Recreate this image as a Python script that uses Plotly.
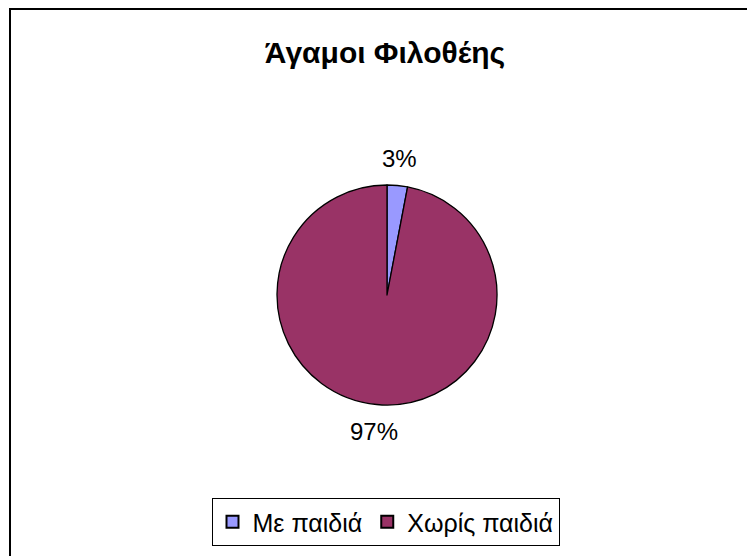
import math
import plotly.graph_objects as go

labels = ["Με παιδιά", "Χωρίς παιδιά"]
values = [3, 97]
colors = ["#9999FF", "#993366"]
title_text = "Άγαμοι Φιλοθέης"

FONT = "Liberation Sans, Arial, sans-serif"
# page has an 8px body margin; figure fills the rest of the 755x556 window
W, H = 747, 548
cx, cy, r = 379, 287, 110      # pie centre / radius in figure pixels
r_label = 137                  # distance of percentage labels from centre

fig = go.Figure(go.Pie(
    labels=labels,
    values=values,
    sort=False,
    direction="clockwise",
    rotation=0,
    marker=dict(colors=colors, line=dict(color="black", width=1.3)),
    textinfo="none",
    domain=dict(x=[(cx - r) / W, (cx + r) / W], y=[(H - cy - r) / H, (H - cy + r) / H]),
    hoverinfo="skip",
))

# percentage labels placed outside each slice along its mid-angle
total = sum(values)
annotations = []
start = 0.0
for v in values:
    frac = v / total
    mid = (start + frac / 2) * 2 * math.pi
    start += frac
    px = cx + r_label * math.sin(mid)
    py = cy - r_label * math.cos(mid)
    annotations.append(dict(
        x=px / W, y=1 - py / H, xref="paper", yref="paper",
        text=f"{round(frac * 100)}%", showarrow=False,
        xanchor="center", yanchor="middle",
        font=dict(family=FONT, size=24, color="black"),
    ))

fig.update_layout(
    width=W, height=H,
    margin=dict(l=0, r=0, t=0, b=0),
    paper_bgcolor="white",
    font=dict(family=FONT, color="black"),
    title=dict(text="<b>" + title_text + "</b>", x=377 / W, xanchor="center",
               y=1 - 44 / H, yanchor="middle",
               font=dict(size=30, family=FONT, color="black")),
    showlegend=True,
    legend=dict(orientation="h", x=377.5 / W, xanchor="center", y=1 - 514 / H, yanchor="middle",
                bordercolor="black", borderwidth=1, bgcolor="white",
                font=dict(size=25, family=FONT, color="black"),
                itemwidth=30, itemsizing="constant"),
    annotations=annotations,
    shapes=[dict(type="rect", xref="paper", yref="paper",
                 x0=2 / W, x1=1.02, y0=-0.02, y1=1 - 1 / H,
                 line=dict(color="black", width=2))],
)

fig.write_html("out.html")
